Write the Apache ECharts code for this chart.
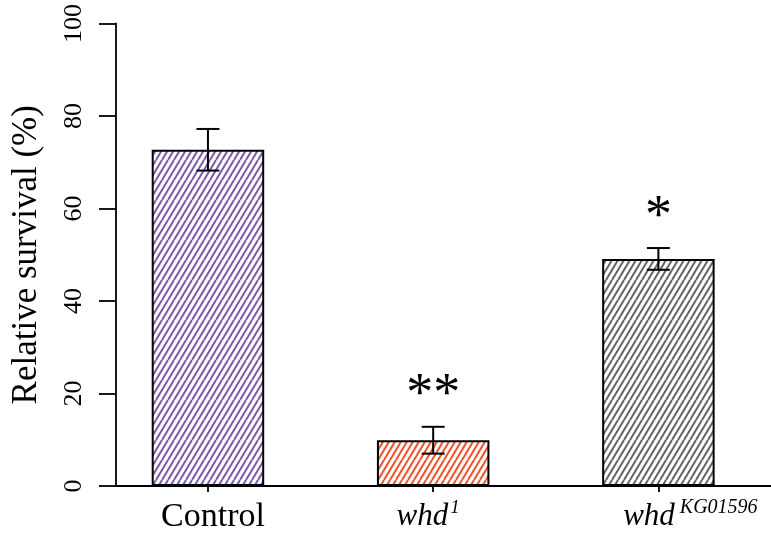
<!DOCTYPE html>
<html>
<head>
<meta charset="utf-8">
<script src="https://cdn.jsdelivr.net/npm/echarts@6/dist/echarts.min.js"></script>
<style>
html,body{margin:0;padding:0;background:#fff;}
#chart{width:771px;height:534px;}
</style>
</head>
<body>
<div id="chart"></div>
<script>
// ---- data ----
const categories = ['Control', 'whd1', 'whdKG01596'];
const xPositions = [1, 2, 3];
const means = [72.7, 9.9, 49.1];
const errors = [4.5, 2.9, 2.35];
const significance = ['', '**', '*'];
const yTickValues = [0, 20, 40, 60, 80, 100];
const barColors = ['#7b5ca8', '#f0532a', '#666666'];

// ---- styling helpers ----
const FONT = '"Liberation Serif", "DejaVu Serif", serif';
function hatch(color) {
  const W = 12, H = 20;
  const c = document.createElement('canvas');
  c.width = W; c.height = H;
  const g = c.getContext('2d');
  g.strokeStyle = color;
  g.lineWidth = 2;
  for (let x0 = -2 * W; x0 <= 2 * W; x0 += 6) {
    g.beginPath();
    g.moveTo(x0, H);
    g.lineTo(x0 + W, 0);
    g.stroke();
  }
  return c;
}
const labelText = {
  'Control': '{pc|Control}',
  'whd1': '{i|whd}{s1|1}',
  'whdKG01596': '{i2|whd}{s2|KG01596}'
};
const labelMap = {};
xPositions.forEach((x, i) => { labelMap[x] = labelText[categories[i]]; });

const chart = echarts.init(document.getElementById('chart'), null, {renderer: 'canvas'});
const starGap = 6.6;

chart.setOption({
  animation: false,
  grid: {left: 116, right: 0, top: 23.5, bottom: 48, containLabel: false, outerBoundsMode: 'none'},
  xAxis: {
    type: 'value',
    min: 0.5917,
    max: 3.5,
    splitLine: {show: false},
    axisLine: {onZero: false, lineStyle: {color: '#000', width: 1.8}},
    axisTick: {show: true, customValues: xPositions, length: 6, lineStyle: {color: '#000', width: 1.8}},
    axisLabel: {
      customValues: xPositions,
      margin: 12,
      color: '#000',
      fontFamily: FONT,
      fontSize: 33,
      formatter: v => labelMap[v] || '',
      rich: {
        pc: {fontFamily: FONT, fontSize: 34, color: '#000', lineHeight: 38, padding: [0, 0, 0, 10]},
        i: {fontFamily: FONT, fontSize: 31, fontStyle: 'italic', color: '#000', lineHeight: 38},
        i2: {fontFamily: FONT, fontSize: 31, fontStyle: 'italic', color: '#000', lineHeight: 38, padding: [0, 0, 0, 64]},
        s1: {fontFamily: FONT, fontSize: 19, fontStyle: 'italic', color: '#000', verticalAlign: 'top', lineHeight: 38, padding: [0, 10, 18, 2]},
        s2: {fontFamily: FONT, fontSize: 20, fontStyle: 'italic', color: '#000', verticalAlign: 'top', lineHeight: 38, padding: [0, 0, 18, 5]}
      }
    }
  },
  yAxis: {
    type: 'value',
    min: 0,
    max: 100,
    interval: 20,
    name: 'Relative survival (%)',
    nameLocation: 'middle',
    nameGap: 72,
    nameRotate: 90,
    nameTextStyle: {fontFamily: FONT, fontSize: 35, color: '#000'},
    splitLine: {show: false},
    axisLine: {show: true, lineStyle: {color: '#000', width: 1.8}},
    axisTick: {show: true, length: 17, lineStyle: {color: '#000', width: 1.8}},
    axisLabel: {
      rotate: 90,
      margin: 29,
      color: '#000',
      fontFamily: FONT,
      fontSize: 26,
      formatter: v => (yTickValues.indexOf(v) >= 0 ? String(v) : '')
    }
  },
  series: [
    {
      type: 'bar',
      barWidth: 112.5,
      data: xPositions.map((x, i) => ({
        value: [x, means[i]],
        itemStyle: {
          color: {image: hatch(barColors[i]), repeat: 'repeat'},
          borderColor: '#000',
          borderWidth: 2
        }
      })),
      z: 2
    },
    {
      type: 'custom',
      z: 5,
      data: xPositions.map((x, i) => [x, means[i] - errors[i], means[i] + errors[i]]),
      renderItem: function (params, api) {
        const x = api.value(0), lo = api.value(1), hi = api.value(2);
        const pHi = api.coord([x, hi]);
        const pLo = api.coord([x, lo]);
        const hw = 11.5;
        const st = {stroke: '#000', lineWidth: 2};
        return {
          type: 'group',
          children: [
            {type: 'line', shape: {x1: pHi[0], y1: pHi[1], x2: pLo[0], y2: pLo[1]}, style: st},
            {type: 'line', shape: {x1: pHi[0] - hw, y1: pHi[1], x2: pHi[0] + hw, y2: pHi[1]}, style: st},
            {type: 'line', shape: {x1: pLo[0] - hw, y1: pLo[1], x2: pLo[0] + hw, y2: pLo[1]}, style: st}
          ]
        };
      }
    },
    {
      type: 'custom',
      z: 6,
      data: xPositions.map((x, i) => [x, means[i] + errors[i] + starGap, significance[i]]),
      renderItem: function (params, api) {
        const i = params.dataIndex;
        const p = api.coord([api.value(0), api.value(1)]);
        return {
          type: 'text',
          x: p[0],
          y: p[1],
          style: {
            text: significance[i],
            fontFamily: FONT,
            fontSize: 54,
            fill: '#000',
            align: 'center',
            verticalAlign: 'middle'
          }
        };
      }
    }
  ]
});
</script>
</body>
</html>
